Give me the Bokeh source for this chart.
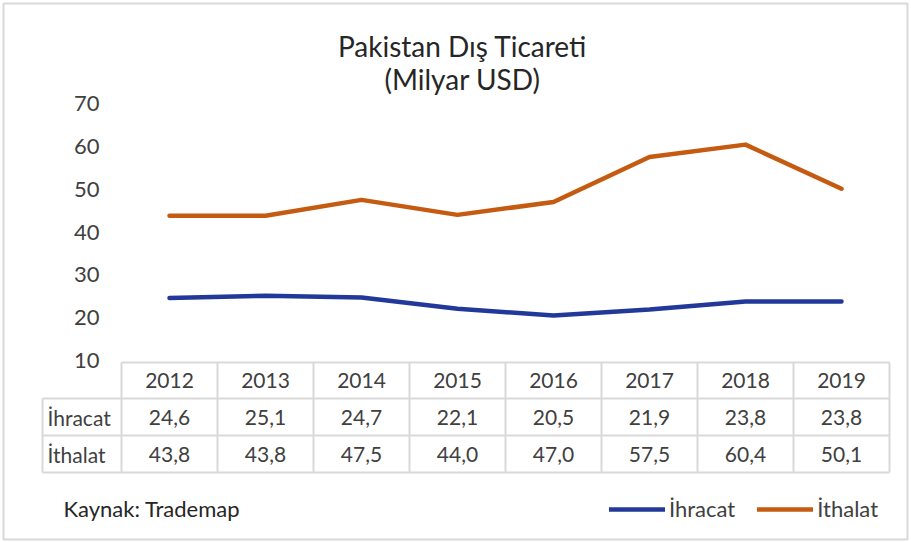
import numpy as np
from bokeh.plotting import figure
from bokeh.models import Range1d, Legend, LegendItem
from bokeh.core.properties import value
from bokeh.embed import file_html
from bokeh.resources import INLINE

# ---------------- data ----------------
years = ["2012", "2013", "2014", "2015", "2016", "2017", "2018", "2019"]
ihracat = [24.6, 25.1, 24.7, 22.1, 20.5, 21.9, 23.8, 23.8]
ithalat = [43.8, 43.8, 47.5, 44.0, 47.0, 57.5, 60.4, 50.1]
y_ticks = [10, 20, 30, 40, 50, 60, 70]
series_names = ["İhracat", "İthalat"]
title_lines = ["Pakistan Dış Ticareti", "(Milyar USD)"]
source_note = "Kaynak: Trademap"

# ---------------- layout ----------------
W, H = 910, 541
COL0 = 121.0      # px of first year column's left edge
COLW = 96.0       # px width of one year column
Y_TOP, Y_BOT = 103.0, 360.0   # px positions of 70 and 10
PPU = (Y_BOT - Y_TOP) / 60.0
FONT = "Lato"
TXT = "#404040"
GRID = "#d9d9d9"
BLUE = "#22399A"
ORANGE = "#C55A11"

p = figure(width=W, height=H, output_backend="svg", toolbar_location=None, tools="",
           x_range=Range1d(-COL0 / COLW, (W - COL0) / COLW),
           y_range=Range1d(10 - (H - Y_BOT) / PPU, 70 + Y_TOP / PPU),
           min_border=0, x_axis_location=None, y_axis_location=None)
p.extra_x_ranges = {"px": Range1d(0, W)}
p.extra_y_ranges = {"px": Range1d(H, 0)}
p.xgrid.visible = False
p.ygrid.visible = False
p.outline_line_color = None
p.background_fill_color = "white"
p.border_fill_color = "white"

# outer chart border
p.quad(left=[3], right=[907], top=[3], bottom=[539], x_range_name="px", y_range_name="px",
       fill_color=None, line_color=GRID, line_width=2)

n = len(years)
xc = np.arange(n) + 0.5

# ---------------- series ----------------
r1 = p.line(xc, ihracat, line_color=BLUE, line_width=4.5, line_join="round", line_cap="round")
r2 = p.line(xc, ithalat, line_color=ORANGE, line_width=4.5, line_join="round", line_cap="round")

# ---------------- y tick labels ----------------
p.text(x=[99] * len(y_ticks), y=y_ticks, text=[str(t) for t in y_ticks],
       x_range_name="px", text_align="right", text_baseline="middle",
       text_font=value(FONT), text_font_size="22px", text_color=TXT)

# ---------------- title ----------------
p.text(x=[462, 462], y=[45, 78], text=title_lines, x_range_name="px", y_range_name="px",
       text_align="center", text_baseline="middle",
       text_font=value(FONT), text_font_size="28px", text_color="#262626")

# ---------------- data table ----------------
row_tops = [362.0, 398.0, 435.0, 472.0]
lab_left = 42.0
col_edges = COL0 + np.arange(n + 1) * COLW
x0s, y0s, x1s, y1s = [], [], [], []
for cx in col_edges:
    x0s.append(cx); x1s.append(cx); y0s.append(row_tops[0]); y1s.append(row_tops[-1])
x0s.append(lab_left); x1s.append(lab_left); y0s.append(row_tops[1]); y1s.append(row_tops[-1])
x0s.append(col_edges[0]); x1s.append(col_edges[-1]); y0s.append(row_tops[0]); y1s.append(row_tops[0])
for ry in row_tops[1:]:
    x0s.append(lab_left); x1s.append(col_edges[-1]); y0s.append(ry); y1s.append(ry)
p.segment(x0=x0s, y0=y0s, x1=x1s, y1=y1s, x_range_name="px", y_range_name="px",
          line_color=GRID, line_width=2)

row_mid = [(row_tops[i] + row_tops[i + 1]) / 2 for i in range(3)]
p.text(x=xc, y=[row_mid[0]] * n, text=years, y_range_name="px",
       text_align="center", text_baseline="middle",
       text_font=value(FONT), text_font_size="21px", text_color=TXT)
fmt = lambda v: f"{v:.1f}".replace(".", ",")
for k, ser in enumerate([ihracat, ithalat]):
    p.text(x=xc, y=[row_mid[k + 1]] * n, text=[fmt(v) for v in ser], y_range_name="px",
           text_align="center", text_baseline="middle",
           text_font=value(FONT), text_font_size="21px", text_color=TXT)
p.text(x=[lab_left + 5] * 2, y=row_mid[1:], text=series_names,
       x_range_name="px", y_range_name="px", text_align="left", text_baseline="middle",
       text_font=value(FONT), text_font_size="21px", text_color=TXT)

# ---------------- source note ----------------
p.text(x=[63], y=[508], text=[source_note], x_range_name="px", y_range_name="px",
       text_align="left", text_baseline="middle",
       text_font=value(FONT), text_font_size="22px", text_color="#262626")

# ---------------- legend ----------------
legend = Legend(items=[LegendItem(label=series_names[0], renderers=[r1]),
                       LegendItem(label=series_names[1], renderers=[r2])],
                orientation="horizontal", location=(609, H - 512 - 10),
                padding=0, margin=0, spacing=22, glyph_width=56, glyph_height=20,
                label_standoff=4, label_height=20,
                label_text_font=FONT, label_text_font_size="22px", label_text_color=TXT,
                border_line_color=None, background_fill_alpha=0)
p.add_layout(legend)

open("out.html", "w").write(file_html(p, INLINE, title="Pakistan Dış Ticareti"))
